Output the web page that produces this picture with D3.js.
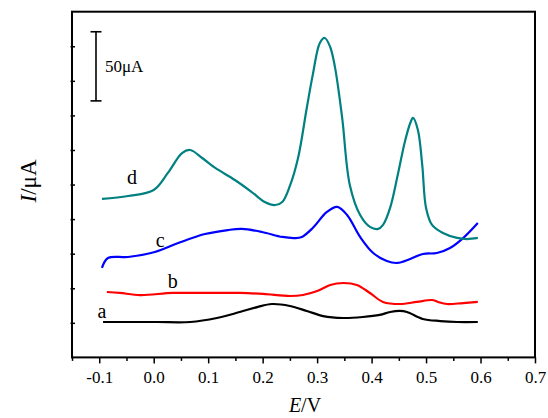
<!DOCTYPE html>
<html>
<head>
<meta charset="utf-8">
<script src="https://d3js.org/d3.v7.min.js"></script>
<style>
  html, body { margin: 0; padding: 0; background: #fff; }
  svg { display: block; }
  text { font-family: "Liberation Serif", "Times New Roman", serif; fill: #000; }
</style>
</head>
<body>
<svg id="chart" width="548" height="418"></svg>
<script>
// ---- data (E in V, I in µA, offset curves as drawn) ----
const dE = [-0.095, -0.047, 0.0, 0.026, 0.052, 0.067, 0.089, 0.113, 0.149, 0.180, 0.204, 0.223, 0.236, 0.250, 0.265, 0.281, 0.292, 0.305, 0.314, 0.324, 0.333, 0.346, 0.360, 0.379, 0.397, 0.412, 0.421, 0.434, 0.448, 0.461, 0.471, 0.476, 0.485, 0.493, 0.500, 0.511, 0.531, 0.557, 0.575, 0.595];
const dI = [114.6, 116.7, 121.1, 133.4, 147.8, 150.0, 144.2, 137.0, 128.3, 119.6, 112.4, 110.2, 112.4, 124.0, 144.2, 180.4, 204.3, 227.4, 231.0, 224.5, 209.4, 173.2, 124.7, 103.0, 94.4, 92.9, 95.8, 108.1, 131.9, 155.8, 169.5, 173.2, 164.5, 139.1, 108.1, 95.8, 90.0, 86.4, 85.6, 86.4];

const cE = [-0.095, -0.084, -0.047, 0.002, 0.045, 0.094, 0.136, 0.162, 0.199, 0.236, 0.259, 0.272, 0.292, 0.318, 0.337, 0.355, 0.379, 0.403, 0.428, 0.447, 0.471, 0.494, 0.520, 0.544, 0.568, 0.595];
const cI = [64.7, 71.9, 72.6, 76.2, 82.7, 89.2, 92.1, 92.9, 90.7, 87.1, 86.3, 87.1, 93.6, 105.2, 108.8, 103.0, 87.1, 75.5, 69.7, 68.3, 71.2, 74.8, 75.5, 79.1, 86.3, 97.2];

const bE = [-0.086, -0.062, -0.025, 0.035, 0.098, 0.158, 0.201, 0.250, 0.274, 0.300, 0.324, 0.348, 0.373, 0.397, 0.421, 0.452, 0.483, 0.511, 0.522, 0.538, 0.568, 0.595];
const bI = [47.3, 46.6, 45.1, 46.6, 46.6, 46.6, 45.9, 44.4, 45.1, 48.0, 52.4, 53.8, 52.4, 46.6, 40.1, 38.6, 40.1, 41.5, 40.1, 38.6, 39.3, 40.1];

const aE = [-0.093, -0.056, 0.006, 0.067, 0.116, 0.158, 0.190, 0.217, 0.250, 0.281, 0.311, 0.348, 0.384, 0.415, 0.434, 0.452, 0.465, 0.494, 0.526, 0.557, 0.595];
const aI = [25.6, 25.6, 25.6, 25.6, 28.5, 32.8, 36.4, 38.6, 37.2, 33.6, 29.9, 28.5, 29.2, 30.7, 32.8, 33.6, 32.8, 27.8, 26.3, 25.6, 25.6];

const seriesNames = ["a", "b", "c", "d"];
const seriesColors = ["#000000", "#ff0000", "#0000ff", "#008080"];
const xTicks = [-0.1, 0.0, 0.1, 0.2, 0.3, 0.4, 0.5, 0.6, 0.7];
const xMinorTicks = [-0.15, -0.05, 0.05, 0.15, 0.25, 0.35, 0.45, 0.55, 0.65];
const yTicks = [25, 50, 75, 100, 125, 150, 175, 200, 225];
// curve label anchors (E, I)
const labelE = [-0.095, 0.035, 0.012, -0.04];
const labelI = [28.5, 50.5, 79.5, 125.5];
// scale bar
const scaleBarTop = 235.5, scaleBarLen = 50, scaleBarLabel = "50μA";

// ---- layout ----
const svg = d3.select("#chart");
const margin = { left: 72, right: 13, top: 11.7, bottom: 60.6 };
const W = 548, H = 418;
const x = d3.scaleLinear().domain([-0.15, 0.7]).range([margin.left, W - margin.right]);
const y = d3.scaleLinear().domain([0, 250]).range([H - margin.bottom, margin.top]);

const series = [
  { E: aE, I: aI }, { E: bE, I: bI }, { E: cE, I: cI }, { E: dE, I: dI }
];

const line = d3.line().x(d => x(d[0])).y(d => y(d[1])).curve(d3.curveCatmullRom.alpha(0.5));

series.forEach((s, i) => {
  const pts = s.E.map((e, k) => [e, s.I[k]]);
  svg.append("path").attr("d", line(pts))
    .attr("fill", "none").attr("stroke", seriesColors[i])
    .attr("stroke-width", 2.2).attr("stroke-linejoin", "round");
  svg.append("text").attr("x", x(labelE[i])).attr("y", y(labelI[i]))
    .attr("text-anchor", "middle").attr("font-size", 20).text(seriesNames[i]);
});

// x axis (major & minor, outward)
const xAxis = d3.axisBottom(x).tickValues(xTicks).tickSize(6).tickPadding(8)
  .tickFormat(d3.format(".1f"));
const gx = svg.append("g").attr("transform", `translate(0,${y(0)})`).call(xAxis);
gx.select(".domain").remove();
gx.selectAll("line").attr("stroke", "#000").attr("stroke-width", 1.5);
gx.selectAll("text").attr("font-size", 17).attr("font-family", "Liberation Serif, serif")
  .text(d => d3.format(".1f")(d).replace("−", "-"));
const gxm = svg.append("g").attr("transform", `translate(0,${y(0)})`)
  .call(d3.axisBottom(x).tickValues(xMinorTicks).tickSize(3.5).tickFormat(""));
gxm.select(".domain").remove();
gxm.selectAll("line").attr("stroke", "#000").attr("stroke-width", 1.5);

// y axis ticks (small, inward, no labels)
const gy = svg.append("g").attr("transform", `translate(${x(-0.15)},0)`)
  .call(d3.axisRight(y).tickValues(yTicks).tickSize(3).tickFormat(""));
gy.select(".domain").remove();
gy.selectAll("line").attr("stroke", "#000").attr("stroke-width", 1.5).attr("x1", -1.5);

// frame
svg.append("rect").attr("x", x(-0.15)).attr("y", y(250))
  .attr("width", x(0.7) - x(-0.15)).attr("height", y(0) - y(250))
  .attr("fill", "none").attr("stroke", "#000").attr("stroke-width", 2);

// axis titles
const xt = svg.append("text").attr("x", 305).attr("y", 412).attr("text-anchor", "middle")
  .attr("font-size", 20);
xt.append("tspan").attr("font-style", "italic").text("E");
xt.append("tspan").text("/V");

const yt = svg.append("text").attr("transform", "translate(36,181) rotate(-90)")
  .attr("text-anchor", "middle").attr("font-size", 23);
yt.append("tspan").attr("font-style", "italic").text("I");
yt.append("tspan").text("/μA");

// scale bar
const sbX = 96;
const sbTop = y(scaleBarTop), sbBot = y(scaleBarTop - scaleBarLen);
const sb = svg.append("g").attr("stroke", "#000").attr("stroke-width", 1.6);
sb.append("line").attr("x1", sbX).attr("x2", sbX).attr("y1", sbTop).attr("y2", sbBot);
sb.append("line").attr("x1", sbX - 5.5).attr("x2", sbX + 5.5).attr("y1", sbTop).attr("y2", sbTop);
sb.append("line").attr("x1", sbX - 5.5).attr("x2", sbX + 5.5).attr("y1", sbBot).attr("y2", sbBot);
svg.append("text").attr("x", 105).attr("y", (sbTop + sbBot) / 2 + 6).attr("font-size", 17)
  .text(scaleBarLabel);
</script>
</body>
</html>
